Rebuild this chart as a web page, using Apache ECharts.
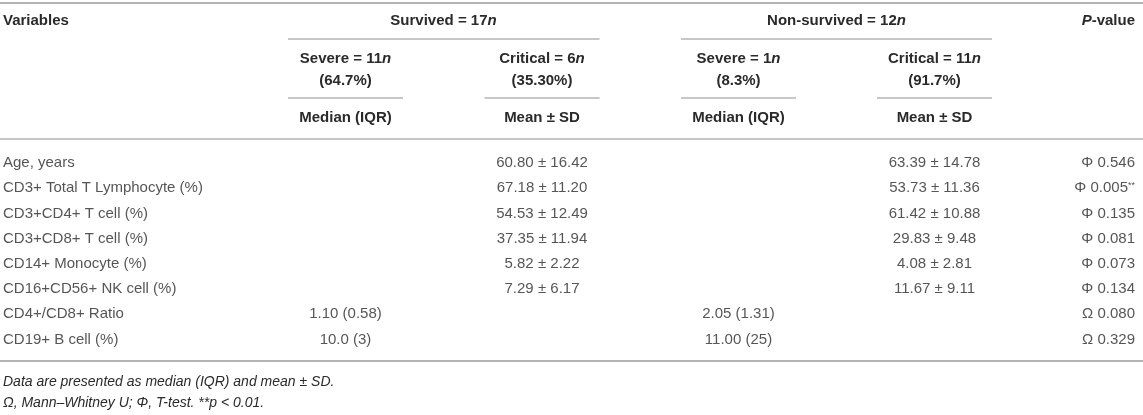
<!DOCTYPE html>
<html>
<head>
<meta charset="utf-8">
<script src="https://cdn.jsdelivr.net/npm/echarts@6/dist/echarts.min.js"></script>
<style>
  html, body { margin: 0; padding: 0; background: #fff; }
  #demo { width: 1143px; height: 415px; }
</style>
</head>
<body>
<div id="demo"></div>
<script>
// table content
const variables = ['Age, years', 'CD3+ Total T Lymphocyte (%)', 'CD3+CD4+ T cell (%)', 'CD3+CD8+ T cell (%)',
  'CD14+ Monocyte (%)', 'CD16+CD56+ NK cell (%)', 'CD4+/CD8+ Ratio', 'CD19+ B cell (%)'];
const survSevere = ['', '', '', '', '', '', '1.10 (0.58)', '10.0 (3)'];
const survCritical = ['60.80 ± 16.42', '67.18 ± 11.20', '54.53 ± 12.49', '37.35 ± 11.94', '5.82 ± 2.22', '7.29 ± 6.17', '', ''];
const nonSevere = ['', '', '', '', '', '', '2.05 (1.31)', '11.00 (25)'];
const nonCritical = ['63.39 ± 14.78', '53.73 ± 11.36', '61.42 ± 10.88', '29.83 ± 9.48', '4.08 ± 2.81', '11.67 ± 9.11', '', ''];
const testSymbol = ['Φ', 'Φ', 'Φ', 'Φ', 'Φ', 'Φ', 'Ω', 'Ω'];
const pValues = ['0.546', '0.005', '0.135', '0.081', '0.073', '0.134', '0.080', '0.329'];
const pMarks = ['', '**', '', '', '', '', '', ''];

const groupHeads = [['Survived = 17', 'n'], ['Non-survived = 12', 'n']];
const subHeads = [['Severe = 11', 'n', '(64.7%)'], ['Critical = 6', 'n', '(35.30%)'],
  ['Severe = 1', 'n', '(8.3%)'], ['Critical = 11', 'n', '(91.7%)']];
const statHeads = ['Median (IQR)', 'Mean ± SD', 'Median (IQR)', 'Mean ± SD'];
const notes = ['Data are presented as median (IQR) and mean ± SD.',
  'Ω, Mann–Whitney U; Φ, T-test. **p < 0.01.'];

// layout
const W = 1143;
const FONT = '"Liberation Sans", Arial, Helvetica, sans-serif';
const TXT = '#2a2a2a';
const RULE = '#b4b4b4';
const colX = [345.5, 542, 738.5, 934.5];
const colW = 115;
const groupX = [443.5, 836.5];
const leftX = 3, rightX = 1135;

function cellSeries(name, x, texts, pos) {
  return {
    name: name,
    type: 'scatter',
    symbolSize: 0,
    silent: true,
    data: variables.map((v, i) => [x, v, texts[i]]),
    label: {
      show: true,
      position: pos,
      distance: 0,
      color: TXT,
      fontFamily: FONT,
      fontSize: 15,
      formatter: p => p.data[2]
    }
  };
}

const pTexts = pValues.map((p, i) => testSymbol[i] + ' ' + p + (pMarks[i] ? '{s|' + pMarks[i] + '}' : ''));

const series = [
  cellSeries('var', leftX, variables, 'right'),
  cellSeries('s1', colX[0], survSevere, 'inside'),
  cellSeries('s2', colX[1], survCritical, 'inside'),
  cellSeries('n1', colX[2], nonSevere, 'inside'),
  cellSeries('n2', colX[3], nonCritical, 'inside'),
  cellSeries('p', rightX, pTexts, 'left')
];
series[5].label.rich = { s: { fontSize: 9, verticalAlign: 'top', color: TXT, fontFamily: FONT } };

function hline(x1, x2, y, w) {
  return { type: 'line', silent: true, shape: { x1: x1, y1: y, x2: x2, y2: y }, style: { stroke: RULE, lineWidth: w } };
}
function htext(x, y, text, align, rich) {
  return {
    type: 'text', silent: true, x: x, y: y,
    style: {
      text: text, align: align, verticalAlign: 'middle', fill: TXT,
      font: 'bold 15px ' + FONT, rich: rich
    }
  };
}
const richHead = {
  b: { fontWeight: 'bold', fontSize: 15, fontFamily: FONT, color: TXT },
  i: { fontWeight: 'bold', fontStyle: 'italic', fontSize: 15, fontFamily: FONT, color: TXT }
};

const graphic = [
  hline(0, W, 3, 2),
  htext(leftX, 21, '{b|Variables}', 'left', richHead),
  htext(rightX, 21, '{i|P}{b|-value}', 'right', richHead),
  hline(colX[0] - colW / 2, colX[1] + colW / 2, 39, 1.5),
  hline(colX[2] - colW / 2, colX[3] + colW / 2, 39, 1.5),
  hline(0, W, 139, 1.5),
  hline(0, W, 361, 2)
];
groupHeads.forEach((g, i) => graphic.push(htext(groupX[i], 21, '{b|' + g[0] + '}{i|' + g[1] + '}', 'center', richHead)));
subHeads.forEach((s, i) => {
  graphic.push(htext(colX[i], 59, '{b|' + s[0] + '}{i|' + s[1] + '}', 'center', richHead));
  graphic.push(htext(colX[i], 81, '{b|' + s[2] + '}', 'center', richHead));
  graphic.push(hline(colX[i] - colW / 2, colX[i] + colW / 2, 98, 1.5));
  graphic.push(htext(colX[i], 118, '{b|' + statHeads[i] + '}', 'center', richHead));
});
notes.forEach((t, i) => graphic.push({
  type: 'text', silent: true, x: leftX, y: 382 + i * 21.5,
  style: { text: t, align: 'left', verticalAlign: 'middle', fill: TXT, font: 'italic 14px ' + FONT }
}));

const option = {
  backgroundColor: '#fff',
  animation: false,
  grid: { left: 0, right: 0, top: 150.5, height: 201.6 },
  xAxis: { type: 'value', min: 0, max: W, show: false },
  yAxis: { type: 'category', data: variables, inverse: true, show: false },
  series: series,
  graphic: graphic
};

const myChart = echarts.init(document.getElementById('demo'));
myChart.setOption(option);
</script>
</body>
</html>
